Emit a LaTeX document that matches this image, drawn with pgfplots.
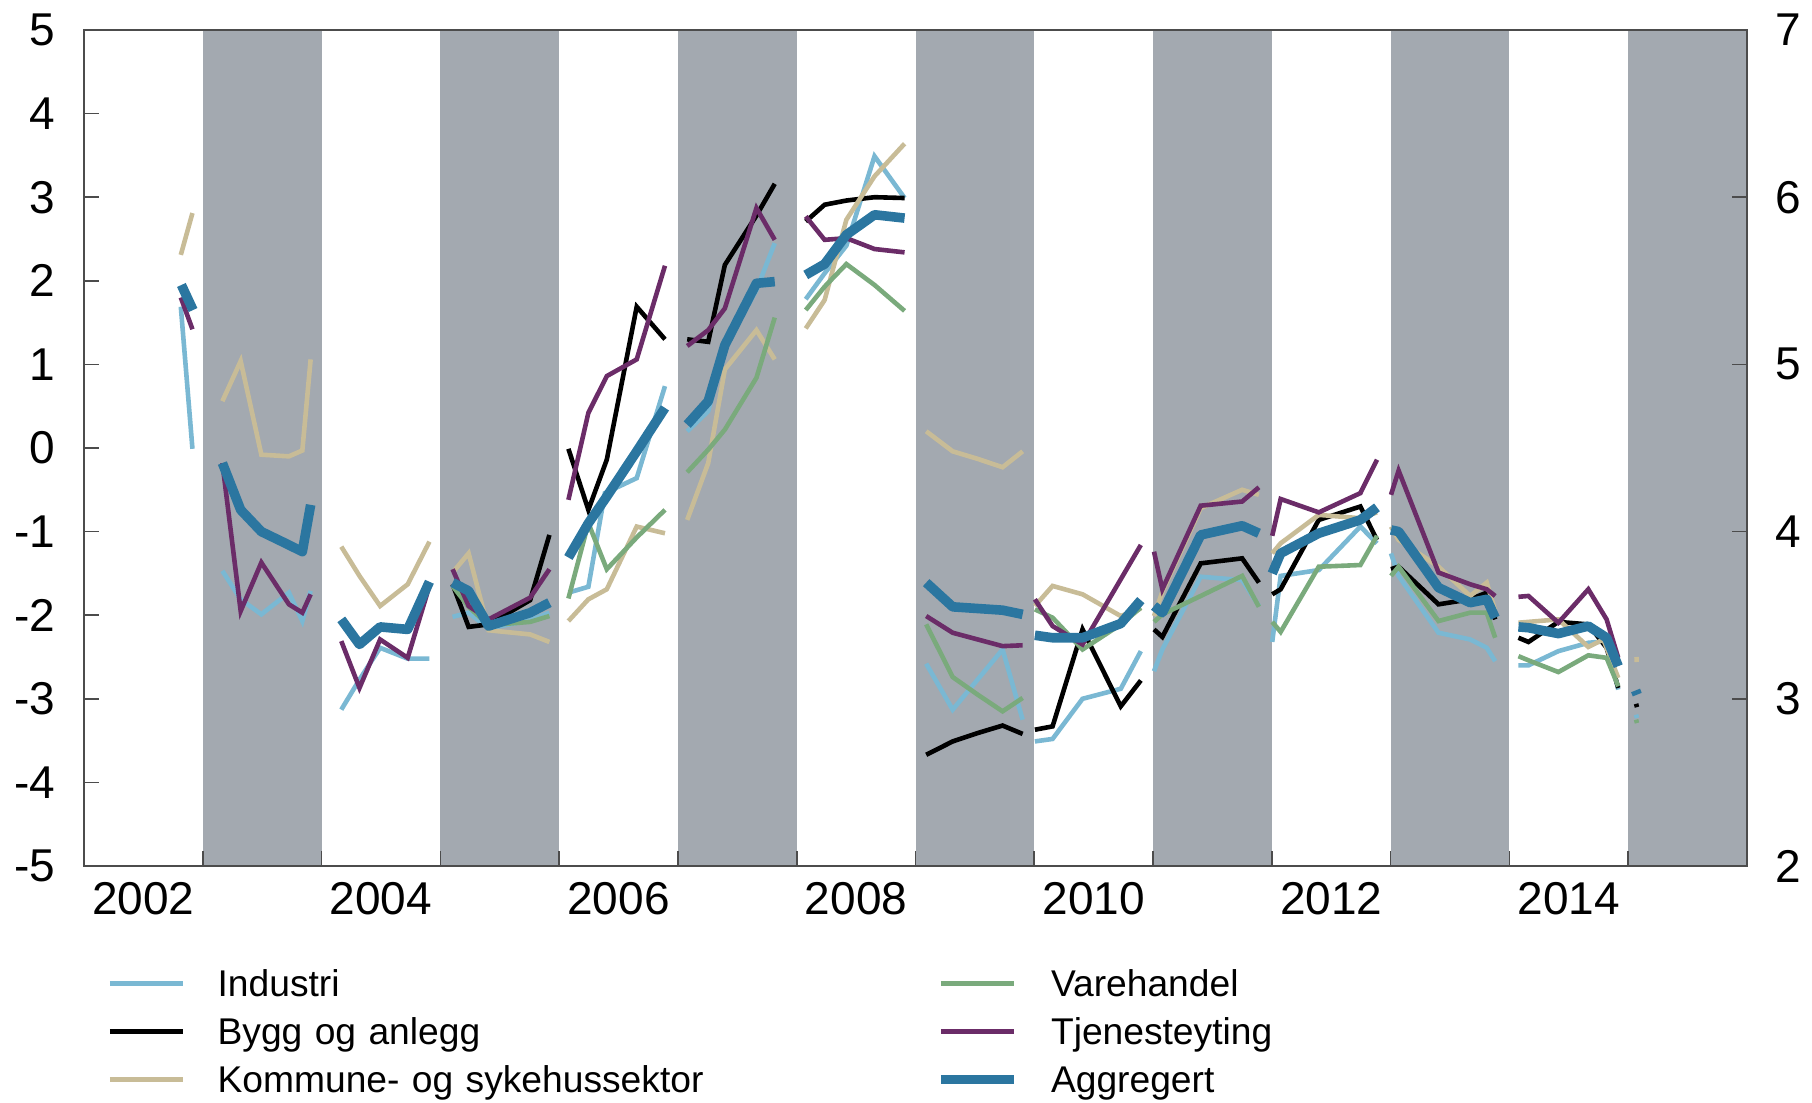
\documentclass[border=0pt]{standalone}
\usepackage{pgfplots}
\pgfplotsset{compat=1.18}
\usepackage{fontspec}
\setmainfont{Liberation Sans}
\definecolor{cInd}{HTML}{7AB8D3}
\definecolor{cBygg}{HTML}{000000}
\definecolor{cKom}{HTML}{C8BC97}
\definecolor{cVare}{HTML}{7AAA7C}
\definecolor{cTjen}{HTML}{6B2C68}
\definecolor{cAgg}{HTML}{2B76A0}
\definecolor{cBand}{HTML}{A3A9B0}
\pgfplotsset{
  sInd/.style={cInd, line width=1.15pt},
  sBygg/.style={cBygg, line width=1.15pt},
  sKom/.style={cKom, line width=1.15pt},
  sVare/.style={cVare, line width=1.15pt},
  sTjen/.style={cTjen, line width=1.15pt},
  sAgg/.style={cAgg, line width=2.4pt, line join=round},
}
\begin{document}
\begin{tikzpicture}
\useasboundingbox (-21pt,-59.25pt) rectangle (432pt,216.5pt);
\begin{axis}[
  at={(0pt,0pt)}, anchor=south west,
  width=415.75pt, height=209pt, scale only axis,
  xmin=2002, xmax=2016, ymin=-5, ymax=5,
  unbounded coords=jump,
  axis on top,
  axis line style={draw=black!70, line width=0.4pt},
  tick align=inside, xtick pos=bottom, ytick pos=left,
  major tick length=3.8pt,
  tick style={draw=black!70, line width=0.4pt},
  xtick={2003,2004,2005,2006,2007,2008,2009,2010,2011,2012,2013,2014,2015},
  xticklabels={},
  extra x ticks={2002.5,2004.5,2006.5,2008.5,2010.5,2012.5,2014.5},
  extra x tick labels={2002,2004,2006,2008,2010,2012,2014},
  extra x tick style={major tick length=0pt},
  ytick={-5,-4,-3,-2,-1,0,1,2,3,4,5},
  yticklabels={-5,-4,-3,-2,-1,0,1,2,3,4,5},
  x tick label style={font=\fontsize{11.5}{12}\selectfont, inner sep=0pt, anchor=north, yshift=-4pt},
  y tick label style={font=\fontsize{11.5}{12}\selectfont, inner sep=0pt, anchor=east, xshift=-7pt},
  legend columns=2,
  legend cell align=left,
  legend image code/.code={\draw[#1] (0pt,0pt) -- (18.25pt,0pt);},
  legend style={at={(0.0142,-0.1124)}, anchor=north west, draw=none, fill=none,
    inner sep=0pt, outer sep=0pt, row sep=0.3pt,
    font=\fontsize{9.3}{11}\selectfont,
    nodes={inner sep=0pt, text height=9.2pt, text depth=2.5pt, text width=179.6pt, align=left},
    /tikz/every odd column/.style={column sep=8.1pt},
    /tikz/every even column/.style={column sep=0pt}},
]
\fill[cBand] (axis cs:2003,-5) rectangle (axis cs:2004,5);
\fill[cBand] (axis cs:2005,-5) rectangle (axis cs:2006,5);
\fill[cBand] (axis cs:2007,-5) rectangle (axis cs:2008,5);
\fill[cBand] (axis cs:2009,-5) rectangle (axis cs:2010,5);
\fill[cBand] (axis cs:2011,-5) rectangle (axis cs:2012,5);
\fill[cBand] (axis cs:2013,-5) rectangle (axis cs:2014,5);
\fill[cBand] (axis cs:2015,-5) rectangle (axis cs:2016,5);

% Industri
\addplot[sInd, forget plot] coordinates {
(2002.815,1.69)(2002.913,-0.01)(2002.95,nan)
(2003.165,-1.47)(2003.319,-1.81)(2003.493,-1.99)(2003.725,-1.73)(2003.838,-2.07)(2003.908,-1.71)(2003.95,nan)
(2004.166,-3.13)(2004.319,-2.77)(2004.493,-2.39)(2004.725,-2.52)(2004.908,-2.52)(2004.95,nan)
(2005.103,-2.02)(2005.238,-1.97)(2005.406,-2.16)(2005.756,-2.06)(2005.918,-1.97)(2005.95,nan)
(2006.078,-1.73)(2006.246,-1.66)(2006.385,-0.54)(2006.653,-0.36)(2006.891,0.74)(2006.95,nan)
(2007.078,0.20)(2007.255,0.44)(2007.395,1.21)(2007.661,1.89)(2007.815,2.45)(2007.9,nan)
(2008.076,1.78)(2008.235,2.09)(2008.418,2.42)(2008.655,3.49)(2008.908,2.99)(2008.95,nan)
(2009.090,-2.58)(2009.313,-3.13)(2009.523,-2.77)(2009.733,-2.41)(2009.902,-3.25)(2009.95,nan)
(2010.005,-3.51)(2010.154,-3.48)(2010.406,-3.00)(2010.728,-2.88)(2010.897,-2.43)(2010.95,nan)
(2011.008,-2.67)(2011.078,-2.41)(2011.401,-1.54)(2011.750,-1.58)(2011.891,-1.89)(2011.95,nan)
(2012.003,-2.32)(2012.074,-1.53)(2012.395,-1.46)(2012.745,-0.94)(2012.885,-1.14)(2012.95,nan)
(2013.003,-1.26)(2013.067,-1.53)(2013.403,-2.21)(2013.669,-2.29)(2013.809,-2.39)(2013.880,-2.55)(2013.95,nan)
(2014.076,-2.60)(2014.160,-2.60)(2014.412,-2.43)(2014.664,-2.33)(2014.818,-2.31)(2014.916,-2.89)(2014.99,nan)
(2015.066,-3.19)(2015.074,-3.23)
};
% Bygg og anlegg
\addplot[sBygg, forget plot] coordinates {
(2005.103,-1.63)(2005.238,-2.14)(2005.406,-2.11)(2005.756,-1.82)(2005.918,-1.04)(2005.95,nan)
(2006.078,-0.01)(2006.246,-0.74)(2006.401,-0.14)(2006.653,1.69)(2006.891,1.30)(2006.95,nan)
(2007.078,1.30)(2007.255,1.27)(2007.395,2.19)(2007.661,2.78)(2007.815,3.16)(2007.9,nan)
(2008.076,2.71)(2008.235,2.91)(2008.418,2.96)(2008.655,3.00)(2008.908,2.99)(2008.95,nan)
(2009.090,-3.67)(2009.313,-3.51)(2009.523,-3.41)(2009.733,-3.32)(2009.902,-3.42)(2009.95,nan)
(2010.005,-3.37)(2010.154,-3.33)(2010.406,-2.17)(2010.728,-3.09)(2010.897,-2.78)(2010.95,nan)
(2011.008,-2.17)(2011.078,-2.26)(2011.401,-1.38)(2011.750,-1.32)(2011.891,-1.61)(2011.95,nan)
(2012.003,-1.75)(2012.074,-1.69)(2012.395,-0.86)(2012.745,-0.70)(2012.885,-1.10)(2012.95,nan)
(2013.003,-1.45)(2013.067,-1.42)(2013.403,-1.87)(2013.669,-1.81)(2013.809,-1.73)(2013.880,-2.05)(2013.95,nan)
(2014.076,-2.27)(2014.160,-2.32)(2014.412,-2.08)(2014.664,-2.11)(2014.818,-2.39)(2014.916,-2.87)(2014.99,nan)
(2015.066,-3.06)(2015.074,-3.10)
};
% Kommune- og sykehussektor
\addplot[sKom, forget plot] coordinates {
(2002.815,2.31)(2002.913,2.81)(2002.95,nan)
(2003.165,0.56)(2003.319,1.04)(2003.493,-0.08)(2003.725,-0.10)(2003.838,-0.03)(2003.908,1.06)(2003.95,nan)
(2004.166,-1.18)(2004.319,-1.53)(2004.493,-1.89)(2004.725,-1.63)(2004.908,-1.12)(2004.95,nan)
(2005.103,-1.49)(2005.238,-1.26)(2005.406,-2.18)(2005.756,-2.23)(2005.918,-2.32)(2005.95,nan)
(2006.078,-2.07)(2006.246,-1.81)(2006.401,-1.69)(2006.653,-0.94)(2006.891,-1.02)(2006.95,nan)
(2007.078,-0.86)(2007.255,-0.18)(2007.395,0.94)(2007.661,1.41)(2007.815,1.06)(2007.9,nan)
(2008.076,1.43)(2008.235,1.77)(2008.418,2.73)(2008.655,3.25)(2008.908,3.64)(2008.95,nan)
(2009.090,0.20)(2009.313,-0.04)(2009.523,-0.13)(2009.733,-0.23)(2009.902,-0.04)(2009.95,nan)
(2010.005,-1.89)(2010.154,-1.65)(2010.406,-1.75)(2010.728,-2.01)(2010.897,-1.92)(2010.95,nan)
(2011.008,-2.01)(2011.078,-1.72)(2011.401,-0.72)(2011.750,-0.50)(2011.891,-0.56)(2011.95,nan)
(2012.003,-1.26)(2012.074,-1.14)(2012.395,-0.80)(2012.745,-0.84)(2012.885,-0.77)(2012.95,nan)
(2013.003,-0.94)(2013.067,-1.10)(2013.403,-1.42)(2013.669,-1.77)(2013.809,-1.61)(2013.880,-1.95)(2013.95,nan)
(2014.076,-2.09)(2014.160,-2.08)(2014.412,-2.05)(2014.664,-2.38)(2014.790,-2.29)(2014.916,-2.75)(2014.99,nan)
(2015.070,-2.50)(2015.071,-2.56)
};
% Varehandel
\addplot[sVare, forget plot] coordinates {
(2005.103,-1.65)(2005.238,-1.90)(2005.406,-2.12)(2005.756,-2.08)(2005.918,-2.01)(2005.95,nan)
(2006.078,-1.80)(2006.246,-0.90)(2006.401,-1.45)(2006.653,-1.07)(2006.891,-0.74)(2006.95,nan)
(2007.078,-0.29)(2007.255,-0.02)(2007.395,0.22)(2007.661,0.84)(2007.815,1.56)(2007.9,nan)
(2008.076,1.65)(2008.235,1.93)(2008.418,2.20)(2008.655,1.95)(2008.908,1.64)(2008.95,nan)
(2009.090,-2.11)(2009.313,-2.74)(2009.523,-2.95)(2009.733,-3.15)(2009.902,-2.99)(2009.95,nan)
(2010.005,-1.93)(2010.154,-2.03)(2010.406,-2.41)(2010.728,-2.11)(2010.897,-1.91)(2010.95,nan)
(2011.008,-2.08)(2011.078,-1.99)(2011.401,-1.77)(2011.750,-1.53)(2011.891,-1.90)(2011.95,nan)
(2012.003,-2.08)(2012.074,-2.20)(2012.395,-1.42)(2012.745,-1.40)(2012.885,-1.05)(2012.95,nan)
(2013.003,-1.53)(2013.067,-1.42)(2013.403,-2.07)(2013.669,-1.97)(2013.809,-1.97)(2013.880,-2.27)(2013.95,nan)
(2014.076,-2.49)(2014.160,-2.54)(2014.412,-2.68)(2014.664,-2.48)(2014.818,-2.51)(2014.916,-2.85)(2014.99,nan)
(2015.066,-3.25)(2015.074,-3.29)
};
% Tjenesteyting
\addplot[sTjen, forget plot] coordinates {
(2002.815,1.80)(2002.913,1.42)(2002.95,nan)
(2003.165,-0.18)(2003.319,-1.95)(2003.493,-1.37)(2003.725,-1.87)(2003.838,-1.97)(2003.908,-1.75)(2003.95,nan)
(2004.166,-2.31)(2004.319,-2.87)(2004.493,-2.29)(2004.725,-2.51)(2004.908,-1.65)(2004.95,nan)
(2005.103,-1.45)(2005.238,-1.89)(2005.406,-2.05)(2005.756,-1.79)(2005.918,-1.45)(2005.95,nan)
(2006.078,-0.62)(2006.246,0.42)(2006.401,0.86)(2006.653,1.06)(2006.891,2.18)(2006.95,nan)
(2007.078,1.22)(2007.255,1.41)(2007.395,1.67)(2007.661,2.87)(2007.815,2.49)(2007.9,nan)
(2008.076,2.77)(2008.235,2.49)(2008.418,2.51)(2008.655,2.38)(2008.908,2.34)(2008.95,nan)
(2009.090,-2.01)(2009.313,-2.21)(2009.523,-2.29)(2009.733,-2.37)(2009.902,-2.36)(2009.95,nan)
(2010.005,-1.81)(2010.154,-2.13)(2010.406,-2.35)(2010.728,-1.57)(2010.897,-1.16)(2010.95,nan)
(2011.008,-1.24)(2011.078,-1.69)(2011.401,-0.69)(2011.750,-0.64)(2011.891,-0.47)(2011.95,nan)
(2012.003,-1.05)(2012.074,-0.61)(2012.395,-0.77)(2012.745,-0.54)(2012.885,-0.14)(2012.95,nan)
(2013.003,-0.56)(2013.067,-0.27)(2013.403,-1.49)(2013.669,-1.63)(2013.809,-1.69)(2013.880,-1.77)(2013.95,nan)
(2014.076,-1.78)(2014.160,-1.77)(2014.412,-2.09)(2014.664,-1.69)(2014.818,-2.05)(2014.916,-2.51)
};
% Aggregert
\addplot[sAgg, forget plot] coordinates {
(2002.82,1.95)(2002.918,1.65)(2002.95,nan)
(2003.165,-0.18)(2003.319,-0.74)(2003.493,-1.00)(2003.725,-1.16)(2003.838,-1.24)(2003.908,-0.68)(2003.95,nan)
(2004.166,-2.05)(2004.319,-2.35)(2004.493,-2.14)(2004.725,-2.17)(2004.908,-1.60)(2004.95,nan)
(2005.103,-1.61)(2005.238,-1.71)(2005.406,-2.13)(2005.756,-1.97)(2005.918,-1.85)(2005.95,nan)
(2006.078,-1.31)(2006.246,-0.90)(2006.401,-0.58)(2006.653,-0.04)(2006.891,0.48)(2006.95,nan)
(2007.078,0.28)(2007.255,0.56)(2007.395,1.23)(2007.661,1.97)(2007.815,1.99)(2007.9,nan)
(2008.076,2.07)(2008.235,2.20)(2008.418,2.55)(2008.655,2.79)(2008.908,2.75)(2008.95,nan)
(2009.090,-1.61)(2009.313,-1.90)(2009.523,-1.92)(2009.733,-1.94)(2009.902,-1.99)(2009.95,nan)
(2010.005,-2.24)(2010.154,-2.27)(2010.406,-2.27)(2010.728,-2.10)(2010.897,-1.82)(2010.95,nan)
(2011.008,-1.89)(2011.078,-1.97)(2011.401,-1.04)(2011.750,-0.93)(2011.891,-1.02)(2011.95,nan)
(2012.003,-1.50)(2012.074,-1.26)(2012.395,-1.02)(2012.745,-0.86)(2012.885,-0.71)(2012.95,nan)
(2013.003,-0.98)(2013.067,-1.00)(2013.403,-1.67)(2013.669,-1.85)(2013.809,-1.81)(2013.880,-2.03)(2013.95,nan)
(2014.076,-2.14)(2014.160,-2.15)(2014.412,-2.22)(2014.664,-2.13)(2014.818,-2.27)(2014.916,-2.61)(2014.99,nan)
(2015.062,-2.90)(2015.076,-2.95)
};

\addlegendimage{sInd}\addlegendentry{Industri}
\addlegendimage{sVare}\addlegendentry{Varehandel}
\addlegendimage{sBygg}\addlegendentry{Bygg og anlegg}
\addlegendimage{sTjen}\addlegendentry{Tjenesteyting}
\addlegendimage{sKom}\addlegendentry{Kommune- og sykehussektor}
\addlegendimage{sAgg}\addlegendentry{Aggregert}
\end{axis}
\begin{axis}[
  at={(0pt,0pt)}, anchor=south west,
  width=415.75pt, height=209pt, scale only axis,
  xmin=2002, xmax=2016, ymin=2, ymax=7,
  axis x line=none, axis y line*=right,
  axis line style={draw=black!70, line width=0.4pt},
  tick align=inside, major tick length=3.8pt,
  tick style={draw=black!70, line width=0.4pt},
  ytick={2,3,4,5,6,7},
  yticklabels={2,3,4,5,6,7},
  y tick label style={font=\fontsize{11.5}{12}\selectfont, inner sep=0pt, anchor=west, xshift=7pt},
]
\end{axis}
\end{tikzpicture}
\end{document}
